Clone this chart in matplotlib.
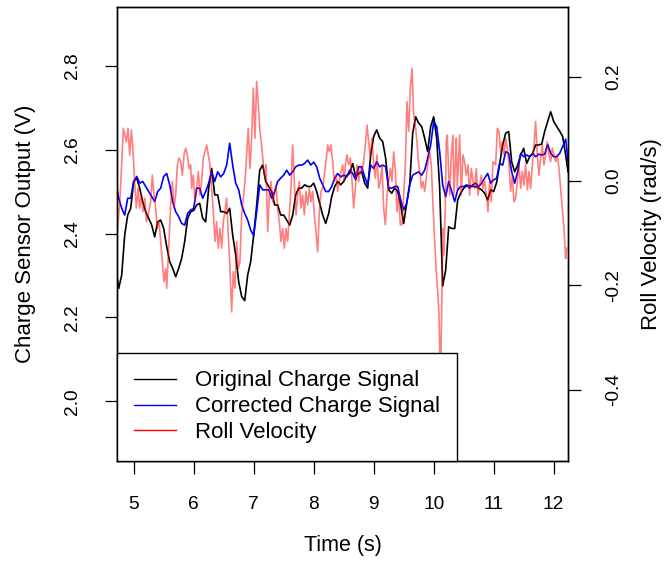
import numpy as np
import matplotlib
matplotlib.use("Agg")
import matplotlib.pyplot as plt
from matplotlib.lines import Line2D

plt.rcParams['font.family'] = ['Liberation Sans', 'DejaVu Sans']

# Charge signals sampled every 50 ms (V)
t_charge = np.r_[4.72, np.arange(4.75, 12.201, 0.05), 12.24]

charge_orig = [
    2.301, 2.269, 2.301, 2.396, 2.444, 2.460, 2.524,
    2.532, 2.508, 2.476, 2.452, 2.436, 2.420, 2.392, 2.428, 2.432, 2.412,
    2.369, 2.333, 2.317, 2.297, 2.317, 2.341, 2.381, 2.436, 2.452, 2.455,
    2.468, 2.472, 2.436, 2.428, 2.508, 2.555, 2.492, 2.492, 2.452, 2.452,
    2.448, 2.460, 2.396, 2.349, 2.285, 2.250, 2.240, 2.301, 2.333, 2.396,
    2.468, 2.551, 2.563, 2.524, 2.512, 2.500, 2.468, 2.468, 2.444, 2.444,
    2.432, 2.420, 2.444, 2.492, 2.508, 2.508, 2.516, 2.512, 2.512, 2.520,
    2.500, 2.472, 2.444, 2.424, 2.448, 2.488, 2.512, 2.524, 2.516, 2.524,
    2.538, 2.543, 2.567, 2.535, 2.543, 2.547, 2.520, 2.508, 2.587, 2.631,
    2.647, 2.627, 2.619, 2.579, 2.504, 2.496, 2.508, 2.500, 2.468, 2.424,
    2.472, 2.516, 2.639, 2.678, 2.663, 2.655, 2.627, 2.595, 2.655, 2.678,
    2.627, 2.508, 2.275, 2.313, 2.416, 2.412, 2.412, 2.480, 2.496, 2.508,
    2.514, 2.514, 2.512, 2.512, 2.508, 2.504, 2.496, 2.480, 2.504, 2.500,
    2.522, 2.567, 2.611, 2.639, 2.643, 2.571, 2.547, 2.563, 2.587, 2.603,
    2.567, 2.583, 2.591, 2.611, 2.611, 2.613, 2.643, 2.667, 2.690, 2.667,
    2.655, 2.644, 2.631, 2.587, 2.547,
]

charge_corr = [
    2.508, 2.484, 2.460, 2.444, 2.484, 2.484, 2.524,
    2.536, 2.520, 2.524, 2.512, 2.500, 2.488, 2.476, 2.500, 2.508, 2.536,
    2.543, 2.516, 2.476, 2.452, 2.440, 2.424, 2.420, 2.448, 2.456, 2.460,
    2.508, 2.508, 2.484, 2.500, 2.520, 2.547, 2.524, 2.547, 2.535, 2.543,
    2.563, 2.615, 2.563, 2.520, 2.504, 2.468, 2.448, 2.432, 2.408, 2.395,
    2.452, 2.516, 2.504, 2.504, 2.504, 2.484, 2.500, 2.524, 2.532, 2.539,
    2.551, 2.539, 2.547, 2.559, 2.563, 2.563, 2.567, 2.575, 2.563, 2.570,
    2.559, 2.532, 2.516, 2.500, 2.500, 2.512, 2.532, 2.543, 2.535, 2.539,
    2.535, 2.551, 2.543, 2.528, 2.559, 2.559, 2.535, 2.516, 2.563, 2.555,
    2.571, 2.559, 2.563, 2.559, 2.508, 2.508, 2.512, 2.512, 2.480, 2.456,
    2.472, 2.516, 2.539, 2.543, 2.547, 2.539, 2.551, 2.579, 2.611, 2.667,
    2.655, 2.595, 2.516, 2.488, 2.524, 2.500, 2.476, 2.504, 2.512, 2.512,
    2.516, 2.508, 2.516, 2.520, 2.512, 2.520, 2.532, 2.543, 2.520, 2.528,
    2.532, 2.567, 2.563, 2.595, 2.591, 2.547, 2.520, 2.547, 2.591, 2.583,
    2.587, 2.583, 2.591, 2.583, 2.589, 2.587, 2.589, 2.612, 2.591, 2.583,
    2.583, 2.591, 2.607, 2.625, 2.571,
]

# Roll velocity from the gyro (rad/s)
t_roll = [
    4.716, 4.772, 4.828, 4.878, 4.905, 4.933, 4.961, 4.989, 5.016, 5.044,
    5.072, 5.100, 5.128, 5.155, 5.183, 5.211, 5.239, 5.283, 5.311, 5.339,
    5.366, 5.394, 5.422, 5.450, 5.478, 5.505, 5.533, 5.550, 5.589, 5.616,
    5.644, 5.672, 5.700, 5.728, 5.755, 5.783, 5.811, 5.839, 5.866, 5.894,
    5.922, 5.950, 5.966, 5.994, 6.021, 6.049, 6.077, 6.105, 6.132, 6.160,
    6.216, 6.244, 6.271, 6.299, 6.327, 6.355, 6.382, 6.410, 6.438, 6.466,
    6.494, 6.521, 6.549, 6.577, 6.605, 6.632, 6.660, 6.688, 6.716, 6.744,
    6.771, 6.799, 6.827, 6.855, 6.882, 6.910, 6.938, 6.966, 6.994, 7.021,
    7.049, 7.077, 7.105, 7.132, 7.160, 7.188, 7.205, 7.233, 7.261, 7.288,
    7.316, 7.344, 7.372, 7.399, 7.427, 7.455, 7.483, 7.511, 7.538, 7.566,
    7.594, 7.622, 7.649, 7.677, 7.705, 7.733, 7.761, 7.788, 7.816, 7.844,
    7.872, 7.899, 7.927, 7.955, 7.983, 8.011, 8.038, 8.066, 8.094, 8.122,
    8.149, 8.177, 8.205, 8.233, 8.261, 8.288, 8.316, 8.344, 8.372, 8.399,
    8.427, 8.455, 8.483, 8.511, 8.528, 8.555, 8.583, 8.611, 8.639, 8.666,
    8.694, 8.722, 8.750, 8.778, 8.805, 8.833, 8.861, 8.889, 8.916, 8.944,
    8.972, 9.000, 9.028, 9.055, 9.083, 9.111, 9.139, 9.166, 9.194, 9.222,
    9.250, 9.278, 9.305, 9.333, 9.361, 9.389, 9.416, 9.444, 9.472, 9.500,
    9.528, 9.555, 9.583, 9.611, 9.639, 9.666, 9.694, 9.722, 9.750, 9.777,
    9.794, 9.821, 9.849, 9.877, 9.905, 9.932, 9.960, 9.988, 10.016, 10.044,
    10.071, 10.088, 10.105, 10.116, 10.138, 10.155, 10.171, 10.194, 10.210, 10.227,
    10.249, 10.266, 10.294, 10.321, 10.338, 10.360, 10.377, 10.394, 10.416, 10.432,
    10.460, 10.488, 10.516, 10.544, 10.571, 10.599, 10.627, 10.655, 10.682, 10.710,
    10.738, 10.766, 10.794, 10.821, 10.849, 10.877, 10.905, 10.932, 10.960, 10.988,
    11.033, 11.061, 11.088, 11.116, 11.144, 11.172, 11.199, 11.227, 11.255, 11.283,
    11.311, 11.338, 11.366, 11.394, 11.422, 11.449, 11.477, 11.505, 11.533, 11.561,
    11.588, 11.616, 11.644, 11.672, 11.699, 11.727, 11.755, 11.783, 11.811, 11.838,
    11.866, 11.894, 11.922, 11.949, 11.977, 12.005, 12.033, 12.061, 12.088, 12.116,
    12.144, 12.172, 12.199, 12.216,
]

roll_vel = [
    -0.116, -0.033, 0.101, 0.075, 0.101, 0.050, 0.098, 0.056, -0.001, -0.052,
    -0.014, -0.052, -0.027, -0.059, -0.033, -0.078, -0.065, -0.040, 0.011, -0.027,
    -0.052, -0.091, -0.078, -0.116, -0.155, -0.193, -0.168, -0.206, -0.116, -0.046,
    -0.001, -0.052, -0.027, 0.031, 0.044, 0.037, 0.011, 0.050, 0.063, 0.050,
    0.024, 0.031, -0.014, 0.011, -0.040, -0.014, 0.018, -0.027, -0.001, 0.044,
    0.069, 0.050, 0.031, -0.014, -0.059, -0.116, -0.078, -0.129, -0.091, -0.129,
    -0.078, -0.059, -0.033, -0.104, -0.168, -0.251, -0.174, -0.206, -0.116, -0.168,
    -0.155, -0.065, -0.033, -0.001, 0.050, 0.101, 0.024, 0.082, 0.178, 0.082,
    0.191, 0.146, 0.095, 0.069, 0.031, 0.005, 0.031, -0.097, -0.027, -0.001,
    -0.040, -0.027, -0.008, -0.052, -0.078, -0.116, -0.091, -0.129, -0.091, -0.116,
    -0.065, -0.014, 0.069, -0.001, -0.065, -0.027, -0.001, -0.052, -0.027, -0.065,
    -0.020, -0.046, -0.014, -0.040, -0.020, -0.065, -0.097, -0.136, -0.059, -0.020,
    -0.014, 0.011, 0.037, 0.069, 0.056, 0.069, 0.037, -0.001, 0.011, -0.020,
    -0.001, 0.018, 0.031, -0.001, 0.031, 0.050, 0.031, 0.044, -0.001, -0.052,
    -0.014, 0.031, -0.001, 0.024, 0.018, 0.037, 0.069, 0.107, 0.075, 0.044,
    0.082, 0.031, 0.005, 0.050, -0.014, -0.001, 0.031, -0.052, -0.084, -0.027,
    -0.001, 0.024, -0.001, 0.056, 0.018, -0.059, -0.027, -0.084, -0.084, -0.027,
    0.031, 0.152, 0.095, 0.178, 0.216, 0.127, 0.107, 0.075, 0.031, 0.011,
    -0.014, -0.001, -0.020, 0.005, 0.037, 0.056, 0.031, -0.046, -0.116, -0.174,
    -0.219, -0.257, -0.334, -0.372, -0.206, -0.091, -0.142, -0.046, 0.075, 0.088,
    0.018, -0.027, 0.050, 0.088, -0.027, 0.031, 0.082, -0.014, 0.044, 0.088,
    -0.027, 0.050, 0.037, 0.011, 0.031, -0.027, 0.024, -0.001, -0.014, 0.024,
    -0.027, -0.008, 0.011, -0.014, -0.001, -0.027, -0.059, -0.001, -0.040, 0.037,
    0.031, 0.101, 0.095, 0.056, 0.075, 0.050, 0.082, 0.063, 0.031, -0.020,
    0.011, -0.040, -0.033, -0.001, 0.031, -0.014, 0.018, -0.008, 0.031, -0.017,
    0.018, -0.014, 0.031, 0.069, 0.114, 0.050, 0.011, 0.044, 0.069, 0.031,
    0.050, 0.075, 0.050, 0.037, 0.063, 0.050, 0.037, 0.050, 0.024, -0.014,
    -0.052, -0.091, -0.149, -0.129,
]

x_ticks = [5, 6, 7, 8, 9, 10, 11, 12]
v_ticks = [2.0, 2.2, 2.4, 2.6, 2.8]
r_ticks = [-0.4, -0.2, 0.0, 0.2]

fig = plt.figure(figsize=(6.7, 5.69), dpi=100)
ax = fig.add_axes([0.1742, 0.1898, 0.6743, 0.7974])
ax2 = ax.twinx()

ax.plot(t_charge, charge_orig, color='black', lw=1.2)
ax.plot(t_charge, charge_corr, color='blue', lw=1.2)
ax2.plot(t_roll, roll_vel, color='red', alpha=0.5, lw=1.2)

ax.set_xlim(4.717, 12.247)
ax.set_ylim(1.858, 2.939)
ax2.set_ylim(-0.537, 0.333)

ax.set_xticks(x_ticks)
ax.set_xticklabels([str(x) for x in x_ticks])
ax.set_yticks(v_ticks)
ax.set_yticklabels(['%.1f' % v for v in v_ticks], rotation=90, va='center')
ax2.set_yticks(r_ticks)
ax2.set_yticklabels(['%.1f' % r for r in r_ticks], rotation=90, va='center')

ax.tick_params(axis='x', direction='out', length=9, width=0.9, labelsize=13.8, pad=16.5)
ax.tick_params(axis='y', direction='out', length=9, width=0.9, labelsize=13.8, pad=16.5)
ax2.tick_params(axis='y', direction='out', length=9, width=0.9, labelsize=13.8, pad=17.5)
for a in (ax, ax2):
    for s in a.spines.values():
        s.set_linewidth(1.0)

fig.text(26 / 670, 1 - 234 / 569, 'Charge Sensor Output (V)', rotation=90,
         ha='center', va='center', fontsize=16)
fig.text(651 / 670, 1 - 234 / 569, 'Roll Velocity (rad/s)', rotation=90,
         ha='center', va='center', fontsize=16)
fig.text(342.6 / 670, 1 - 546 / 569, 'Time (s)', ha='center', va='center', fontsize=15.5)

handles = [Line2D([], [], color='black', lw=1.0),
           Line2D([], [], color='blue', lw=1.0),
           Line2D([], [], color='red', lw=1.0)]
labels = ['Original Charge Signal', 'Corrected Charge Signal', 'Roll Velocity']
leg = ax2.legend(handles, labels, loc='lower left', bbox_to_anchor=(0, 0),
                 borderaxespad=0, fancybox=False, edgecolor='black', framealpha=1,
                 fontsize=16, handlelength=1.85, handletextpad=0.86,
                 labelspacing=0.22, borderpad=0.8)
leg.get_frame().set_linewidth(1.0)

fig.savefig('out.png', dpi=100)
